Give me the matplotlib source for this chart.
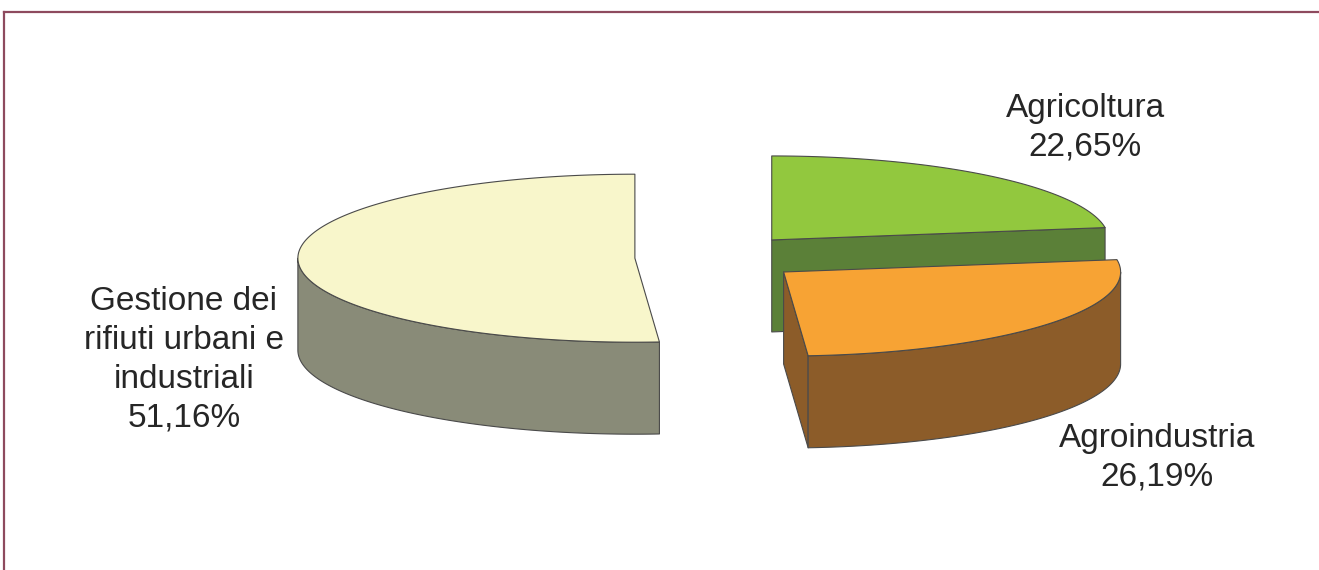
import numpy as np
import matplotlib
matplotlib.use('Agg')
import matplotlib.pyplot as plt
from matplotlib.patches import Polygon
from matplotlib.lines import Line2D

# emissions share by sector
labels = ['Agricoltura', 'Agroindustria', 'Gestione dei\nrifiuti urbani e\nindustriali']
values = [22.65, 26.19, 51.16]
top_colors = ['#92c83e', '#f7a334', '#f8f6cb']
side_colors = ['#5b8038', '#8c5c29', '#898b78']
explode = [0.276, 0.276, 0.226]
label_pos = [(1085, 128), (1157, 458), (184, 360)]

# 3d pie layout (pixels)
cx, cy = 711, 257.5
rx, ry = 337, 84
depth = 92

fig = plt.figure(figsize=(13.19, 5.7), dpi=100)
ax = fig.add_axes([0, 0, 1, 1])
ax.set_xlim(0, 1319)
ax.set_ylim(570, 0)
ax.axis('off')

edge = dict(edgecolor='#4a4a4a', linewidth=0.8, joinstyle='round')


def rim(x0, y0, t, dz=0.0):
    return np.column_stack([x0 + rx * np.cos(t), y0 - ry * np.sin(t) + dz])


# slice angles, clockwise from 12 o'clock
slices = []
start = 90.0
for v, e in zip(values, explode):
    hi = start
    lo = start - v * 3.6
    slices.append((lo, hi, e))
    start = lo

# back slice first, front slice last
for i in [0, 2, 1]:
    lo, hi, e = slices[i]
    mid = np.radians((lo + hi) / 2)
    x0 = cx + e * rx * np.cos(mid)
    y0 = cy - e * ry * np.sin(mid)
    t = np.radians(np.linspace(lo, hi, 400))

    # cut faces that turn toward the viewer
    for ang, vis in [(lo, np.cos(np.radians(lo)) > 0.01),
                     (hi, np.cos(np.radians(hi)) < -0.01)]:
        if vis:
            p = rim(x0, y0, np.array([np.radians(ang)]))[0]
            quad = [(x0, y0), tuple(p), (p[0], p[1] + depth), (x0, y0 + depth)]
            ax.add_patch(Polygon(quad, closed=True, facecolor=side_colors[i], **edge))

    # outer wall on the front half
    front = np.sin(t) <= 0
    if front.any():
        idx = np.where(front)[0]
        runs = np.split(idx, np.where(np.diff(idx) > 1)[0] + 1)
        for r in runs:
            tt = t[r]
            pts = np.vstack([rim(x0, y0, tt), rim(x0, y0, tt[::-1], depth)])
            ax.add_patch(Polygon(pts, closed=True, facecolor=side_colors[i], **edge))

    # top face
    pts = np.vstack([[x0, y0], rim(x0, y0, t)])
    ax.add_patch(Polygon(pts, closed=True, facecolor=top_colors[i], **edge))

for lab, v, (lx, ly) in zip(labels, values, label_pos):
    txt = lab + '\n' + f'{v:.2f}'.replace('.', ',') + '%'
    ax.text(lx, ly, txt, ha='center', va='center', multialignment='center',
            fontsize=24, family='Liberation Sans', color='#262626', linespacing=1.33)

# frame
fig.add_artist(Line2D([4 / 1319, 1], [1 - 12 / 570, 1 - 12 / 570], color='#8e4a5e', lw=1.6))
fig.add_artist(Line2D([4 / 1319, 4 / 1319], [0, 1 - 12 / 570], color='#8e4a5e', lw=1.6))

fig.savefig('out.png', dpi=100)
